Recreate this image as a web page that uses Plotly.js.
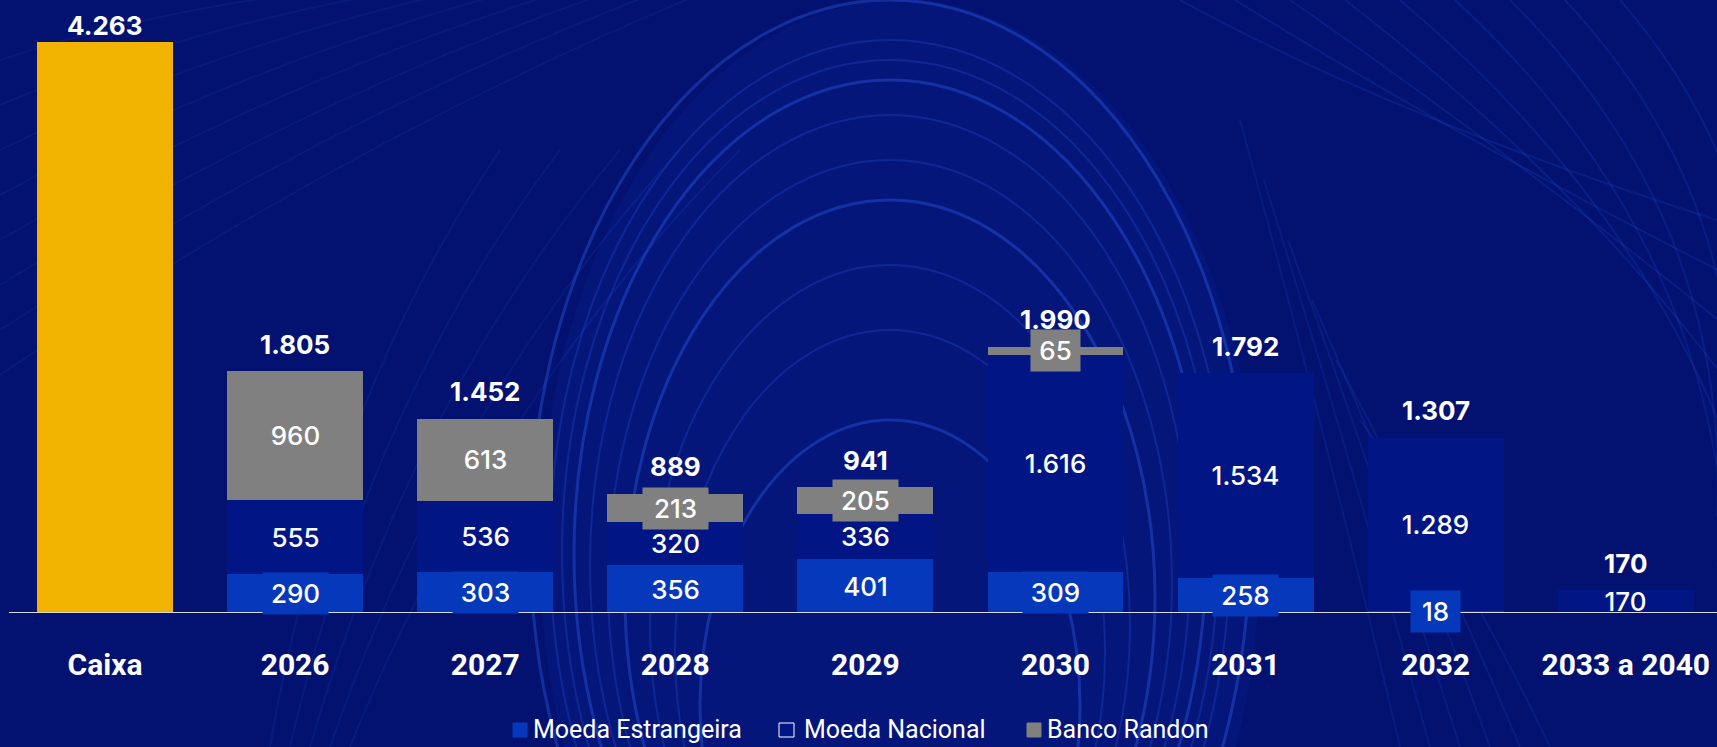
<!DOCTYPE html>
<html><head><meta charset="utf-8">
<script src="https://cdn.plot.ly/plotly-3.0.1.min.js"></script>
<style>html,body{margin:0;padding:0;background:#031270;overflow:hidden}</style>
</head><body><div id="chart" style="width:1717px;height:747px"></div>
<script>
// ---- data ----
const categories = ['Caixa', '2026', '2027', '2028', '2029', '2030', '2031', '2032', '2033 a 2040'];
const caixa = [4263, null, null, null, null, null, null, null, null];
const moedaEstrangeira = [null, 290, 303, 356, 401, 309, 258, 18, 0];
const moedaNacional = [null, 555, 536, 320, 336, 1616, 1534, 1289, 170];
const bancoRandon = [null, 960, 613, 213, 205, 65, 0, 0, 0];
const totals = [4263, 1805, 1452, 889, 941, 1990, 1792, 1307, 170];
const seriesNames = ['Moeda Estrangeira', 'Moeda Nacional', 'Banco Randon'];

// ---- style ----
const W = 1717, H = 747, PH = 613;
const C_CAIXA = '#F2B300', C_EST = '#0638BB', C_NAC = '#011684', C_RAN = '#808080';
const BG = '#031270';
const numFont = 'Inter, Roboto, sans-serif';
const fx = x => x / W, fy = y => (PH - y) / PH;
function fmt(v) { return String(v).replace(/\B(?=(\d{3})+(?!\d))/g, '.'); }

const traces = [
  {type: 'bar', name: 'Caixa', x: categories, y: caixa, marker: {color: C_CAIXA}, showlegend: false, hoverinfo: 'skip'},
  {type: 'bar', name: seriesNames[0], x: categories, y: moedaEstrangeira, marker: {color: C_EST}, showlegend: false},
  {type: 'bar', name: seriesNames[1], x: categories, y: moedaNacional, marker: {color: C_NAC}, showlegend: false},
  {type: 'bar', name: seriesNames[2], x: categories, y: bancoRandon, marker: {color: C_RAN}, showlegend: false}
];

const annotations = [];
// segment labels (x given as category index)
const stacks = [[moedaEstrangeira, C_EST, true], [moedaNacional, C_NAC, false], [bancoRandon, C_RAN, true]];
categories.forEach((c, i) => {
  let base = 0;
  stacks.forEach(([arr, col, boxed]) => {
    const v = arr[i];
    if (v) {
      const txt = fmt(v);
      annotations.push({
        x: i, y: base + v / 2, xref: 'x', yref: 'y', text: txt, showarrow: false,
        font: {family: numFont, size: 26, color: '#ffffff', weight: 500},
        bgcolor: boxed ? col : 'rgba(0,0,0,0)', borderpad: 0,
        width: txt.length * 16 + 17, height: 41, valign: 'middle'
      });
      base += v;
    }
  });
});
// totals
categories.forEach((c, i) => {
  annotations.push({
    x: i, y: totals[i], xref: 'x', yref: 'y', text: fmt(totals[i]), showarrow: false,
    yanchor: 'middle', yshift: i === 0 ? 17 : 27,
    font: {family: numFont, size: 26, color: '#ffffff', weight: 'bold'}
  });
});

// legend (custom)
const legendItems = [
  {name: seriesNames[0], mx0: 513, mx1: 527, fill: C_EST, line: C_EST, tx: 531},
  {name: seriesNames[1], mx0: 779, mx1: 794, fill: C_NAC, line: '#ffffff', tx: 802},
  {name: seriesNames[2], mx0: 1027, mx1: 1041, fill: C_RAN, line: C_RAN, tx: 1045}
];
const shapes = [];

// background decoration
shapes.push({type: 'circle', xref: 'paper', yref: 'paper', x0: fx(540), x1: fx(1260), y0: fy(1100), y1: fy(0),
  fillcolor: 'rgba(20,50,190,0.14)', line: {width: 0}, layer: 'below'});
const arcs = [[0, 360], [40, 340], [60, 328], [80, 316], [115, 300], [160, 282], [200, 265], [265, 240], [330, 215], [420, 190]];
arcs.forEach(([top, hw], k) => {
  shapes.push({type: 'circle', xref: 'paper', yref: 'paper', x0: fx(890 - hw), x1: fx(890 + hw), y0: fy(top + 2 * hw * 1.5), y1: fy(top),
    line: {color: 'rgba(45,95,235,' + (k % 3 === 0 ? 0.38 : 0.24) + ')', width: k % 3 === 0 ? 3 : 2}, layer: 'below'});
});
// right diagonal swirls
for (let k = 0; k < 9; k++) {
  const o = k * 55;
  shapes.push({type: 'path', xref: 'paper', yref: 'paper', layer: 'below',
    path: `M ${fx(1180 + o)} ${fy(0)} Q ${fx(1400 + o)} ${fy(120 + o * 0.3)} ${fx(1717)} ${fy(220 + o * 0.9)}`,
    line: {color: 'rgba(45,95,235,0.16)', width: 2}});
}
for (let k = 0; k < 6; k++) {
  const o = k * 60;
  shapes.push({type: 'path', xref: 'paper', yref: 'paper', layer: 'below',
    path: `M ${fx(1240 + o * 0.4)} ${fy(120 + o)} Q ${fx(1330 + o * 0.4)} ${fy(450 + o * 0.3)} ${fx(1400 + o * 0.5)} ${fy(747)}`,
    line: {color: 'rgba(45,95,235,0.14)', width: 2}});
}
// left swirls
for (let k = 0; k < 8; k++) {
  const o = k * 45;
  shapes.push({type: 'path', xref: 'paper', yref: 'paper', layer: 'below',
    path: `M ${fx(0)} ${fy(60 + o)} Q ${fx(180 + o * 0.6)} ${fy(0 + o * 0.4)} ${fx(420 + o)} ${fy(-20)}`,
    line: {color: 'rgba(45,95,235,0.10)', width: 2}});
}
for (let k = 0; k < 5; k++) {
  const o = k * 40;
  shapes.push({type: 'path', xref: 'paper', yref: 'paper', layer: 'below',
    path: `M ${fx(270 + o * 0.5)} ${fy(747)} Q ${fx(330 + o)} ${fy(400)} ${fx(500 + o * 1.5)} ${fy(150)}`,
    line: {color: 'rgba(45,95,235,0.12)', width: 2}});
}

// baseline
shapes.push({type: 'line', xref: 'paper', yref: 'y', x0: fx(9), x1: 1, y0: 0, y1: 0,
  line: {color: '#d9d9d9', width: 2}, layer: 'above'});

legendItems.forEach(it => {
  shapes.push({type: 'rect', xref: 'paper', yref: 'paper', x0: fx(it.mx0), x1: fx(it.mx1), y0: fy(737), y1: fy(723),
    fillcolor: it.fill, line: {color: it.line, width: 1}, layer: 'above'});
  annotations.push({xref: 'paper', yref: 'paper', x: fx(it.tx), y: fy(730), xanchor: 'left', yanchor: 'middle',
    text: it.name, showarrow: false,
    font: {family: 'Roboto, sans-serif', size: 25, color: '#ffffff'}});
});

const layout = {
  width: W, height: H,
  margin: {l: 0, r: 0, t: 0, b: H - PH, pad: 0},
  paper_bgcolor: BG, plot_bgcolor: 'rgba(0,0,0,0)',
  barmode: 'stack', bargap: 0.285,
  showlegend: false,
  xaxis: {type: 'category', range: [-0.5523, 8.480], showgrid: false, zeroline: false, showline: false,
    ticks: '', ticklabelstandoff: 31,
    tickfont: {family: 'Roboto, Inter, sans-serif', size: 30, color: '#ffffff', weight: 'bold'}},
  yaxis: {range: [0, 4578], visible: false, showgrid: false, zeroline: false},
  shapes: shapes,
  annotations: annotations,
  font: {family: numFont, color: '#ffffff'}
};

Plotly.newPlot('chart', traces, layout, {displayModeBar: false, staticPlot: true});
</script>
</body></html>
